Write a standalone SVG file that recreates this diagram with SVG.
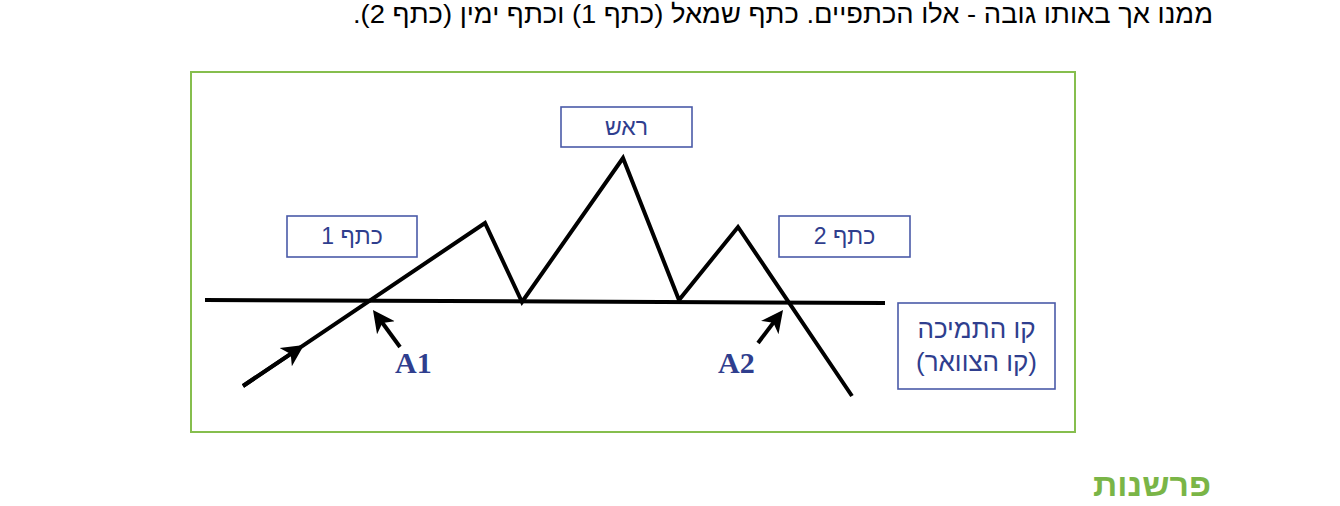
<svg xmlns="http://www.w3.org/2000/svg" width="1340" height="506" viewBox="0 0 1340 506">
<style>
.heb{font-family:"Liberation Sans","DejaVu Sans",sans-serif;direction:rtl;}
.box rect{fill:#fff;stroke:#4a5aa8;stroke-width:1.6;}
.box text{fill:#2f3e8e;font-size:23px;text-anchor:middle;}
.lbl{font-family:"Liberation Serif","DejaVu Serif",serif;font-weight:bold;font-size:30px;fill:#2f3e8e;}
.ln{fill:none;stroke:#000;stroke-width:4;}
</style>
<defs>
<marker id="ah" markerUnits="userSpaceOnUse" markerWidth="24" markerHeight="24" viewBox="0 0 24 24" refX="16" refY="12" orient="auto">
<path d="M0,1 L22,12 L0,23 L6,12 z" fill="#000"/>
</marker>
</defs>
<rect width="1340" height="506" fill="#fff"/>
<text id="title" class="heb" x="1213" y="23" font-size="26" fill="#000" textLength="860" lengthAdjust="spacingAndGlyphs">ממנו אך באותו גובה - אלו הכתפיים. כתף שמאל (כתף 1) וכתף ימין (כתף 2).</text>
<rect id="frame" x="191" y="72" width="884" height="360" fill="none" stroke="#86be4e" stroke-width="2"/>
<g id="connectors">
<path class="ln" d="M205,300 L885,303"/>
<path class="ln" stroke-linejoin="miter" d="M243,386 L485,223 L522,302 L623,158 L679,300 L738,227 L852,396"/>
<path class="ln" d="M243,386 L299,348.3" marker-end="url(#ah)"/>
<path class="ln" d="M400,347 L376.5,314.8" marker-end="url(#ah)"/>
<path class="ln" d="M758,343 L779.4,314.8" marker-end="url(#ah)"/>
</g>
<g id="head" class="box"><rect x="561" y="107" width="131" height="40"/><text class="heb" x="626.5" y="135">ראש</text></g>
<g id="shoulder1" class="box"><rect x="287" y="216" width="130" height="41"/><text class="heb" x="352" y="244">כתף 1</text></g>
<g id="shoulder2" class="box"><rect x="779" y="216" width="131" height="41"/><text class="heb" x="844.5" y="244">כתף 2</text></g>
<g id="support" class="box"><rect x="898" y="303" width="157" height="86"/>
<text class="heb" x="976.5" y="338" style="font-size:26px">קו התמיכה</text>
<text class="heb" x="976.5" y="371" style="font-size:26px">(קו הצוואר)</text></g>
<g id="labelA1"><text class="lbl" x="395" y="373">A1</text></g>
<g id="labelA2"><text class="lbl" x="718" y="373">A2</text></g>
<text id="footer" class="heb" x="1211" y="496" font-size="32" font-weight="bold" fill="#7ab547" textLength="118" lengthAdjust="spacingAndGlyphs">פרשנות</text>
</svg>
